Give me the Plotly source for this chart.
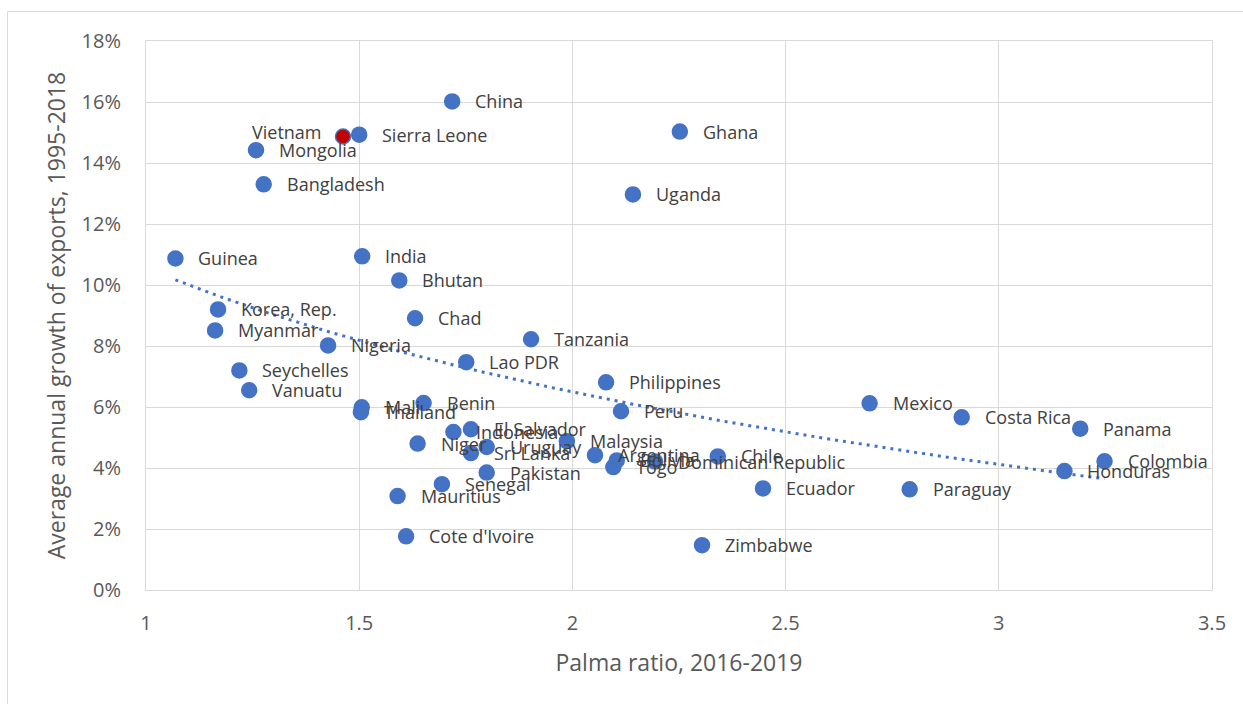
import numpy as np
import plotly.graph_objects as go

countries = ["China", "Sierra Leone", "Vietnam", "Mongolia", "Bangladesh", "Ghana", "Uganda",
             "Guinea", "India", "Bhutan", "Chad", "Tanzania", "Korea, Rep.", "Myanmar", "Nigeria",
             "Lao PDR", "Philippines", "Seychelles", "Vanuatu", "Mexico", "Costa Rica", "Panama",
             "Colombia", "Honduras", "Ecuador", "Paraguay", "Zimbabwe", "Peru", "Cote d'Ivoire",
             "Mali", "Thailand", "Benin", "Indonesia", "El Salvador", "Niger", "Sri Lanka",
             "Uruguay", "Pakistan", "Senegal", "Mauritius", "Malaysia", "Argentina", "Togo",
             "Bolivia", "Dominican Republic", "Chile"]
palma = [1.718, 1.500, 1.462, 1.258, 1.276, 2.252, 2.142,
         1.069, 1.507, 1.594, 1.631, 1.903, 1.169, 1.162, 1.427,
         1.751, 2.079, 1.219, 1.242, 2.697, 2.913, 3.191,
         3.248, 3.154, 2.447, 2.791, 2.304, 2.114, 1.610,
         1.506, 1.504, 1.651, 1.721, 1.762, 1.637, 1.762,
         1.799, 1.799, 1.694, 1.590, 1.987, 2.053, 2.096,
         2.104, 2.194, 2.341]
growth = [16.02, 14.93, 14.87, 14.42, 13.30, 15.03, 12.97,
          10.87, 10.94, 10.15, 8.91, 8.22, 9.20, 8.51, 8.02,
          7.47, 6.81, 7.20, 6.55, 6.12, 5.66, 5.29,
          4.22, 3.90, 3.33, 3.30, 1.47, 5.86, 1.76,
          5.99, 5.83, 6.13, 5.18, 5.27, 4.80, 4.49,
          4.69, 3.85, 3.47, 3.08, 4.88, 4.42, 4.03,
          4.25, 4.21, 4.38]
highlight = "Vietnam"
x_ticks = [1, 1.5, 2, 2.5, 3, 3.5]
x_tick_labels = ["1", "1.5", "2", "2.5", "3", "3.5"]
y_ticks = [0, 2, 4, 6, 8, 10, 12, 14, 16, 18]
y_tick_labels = ["0%", "2%", "4%", "6%", "8%", "10%", "12%", "14%", "16%", "18%"]

BLUE = "#4472C4"
RED = "#C00000"
GRID = "#D9D9D9"
AXIS_TEXT = "#595959"
LABEL_TEXT = "#404040"
FONT = "Open Sans"

# logarithmic trendline fitted to the data (least squares)
xa = np.array(palma)
ya = np.array(growth)
b, a = np.polyfit(np.log(xa), ya, 1)
xs = np.linspace(xa.min(), xa.max(), 200)
ys = a + b * np.log(xs)

fig = go.Figure()
fig.add_trace(go.Scatter(x=xs, y=ys, mode="lines",
                         line=dict(color=BLUE, width=3, dash="3px,5px"),
                         hoverinfo="skip", showlegend=False))

colors = [RED if c == highlight else BLUE for c in countries]
fig.add_trace(go.Scatter(x=palma, y=growth, mode="markers", text=countries,
                         marker=dict(size=15, color=colors, line=dict(color=BLUE, width=1.5)),
                         hovertemplate="%{text}<br>%{x}<br>%{y}%<extra></extra>",
                         showlegend=False))

annotations = []
for c, xv, yv in zip(countries, palma, growth):
    if c == highlight:
        annotations.append(dict(x=xv, y=yv, text=c, showarrow=False, xanchor="right",
                                yanchor="middle", xshift=-19, yshift=4,
                                font=dict(family=FONT, size=18, color=LABEL_TEXT)))
    else:
        annotations.append(dict(x=xv, y=yv, text=c, showarrow=False, xanchor="left",
                                yanchor="middle", xshift=21,
                                font=dict(family=FONT, size=18, color=LABEL_TEXT)))

L, R, T, B = 146, 31, 41, 114
W, H = 1243, 704
pw, ph = W - L - R, H - T - B

def px_x(p):
    return (p - L) / pw

def px_y(p):
    return (H - B - p) / ph

shapes = [
    dict(type="line", xref="paper", yref="paper", x0=px_x(7.5), x1=px_x(7.5),
         y0=px_y(11.5), y1=px_y(720), line=dict(color=GRID, width=1)),
    dict(type="line", xref="paper", yref="paper", x0=px_x(7.5), x1=px_x(1260),
         y0=px_y(11.5), y1=px_y(11.5), line=dict(color=GRID, width=1)),
]

fig.update_layout(
    width=W, height=H, autosize=False,
    margin=dict(l=L, r=R, t=T, b=B),
    paper_bgcolor="white", plot_bgcolor="white",
    font=dict(family=FONT, color=AXIS_TEXT),
    annotations=annotations, shapes=shapes,
    xaxis=dict(range=[1, 3.5], tickmode="array", tickvals=x_ticks, ticktext=x_tick_labels,
               showgrid=True, gridcolor=GRID, gridwidth=1, zeroline=False,
               showline=True, linecolor=GRID, linewidth=1, mirror=True,
               ticks="outside", ticklen=15, tickcolor="rgba(0,0,0,0)",
               tickfont=dict(family=FONT, size=20, color=AXIS_TEXT),
               title=dict(text="Palma ratio, 2016-2019", standoff=19,
                          font=dict(family=FONT, size=23, color=AXIS_TEXT))),
    yaxis=dict(range=[0, 18], tickmode="array", tickvals=y_ticks, ticktext=y_tick_labels,
               showgrid=True, gridcolor=GRID, gridwidth=1, zeroline=False,
               showline=True, linecolor=GRID, linewidth=1, mirror=True,
               ticks="outside", ticklen=20, tickcolor="rgba(0,0,0,0)",
               tickfont=dict(family=FONT, size=20, color=AXIS_TEXT),
               title=dict(text="Average annual growth of exports, 1995-2018", standoff=9,
                          font=dict(family=FONT, size=23, color=AXIS_TEXT))),
)

fig.write_html("out.html")
